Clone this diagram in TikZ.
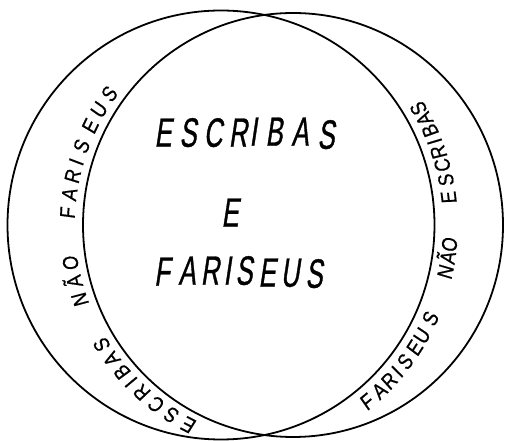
\documentclass[tikz,border=0pt]{standalone}
\usepackage{fontspec}
\newfontfamily\handside[FakeStretch=0.85,FakeSlant=0.08,FakeBold=0.6]{Liberation Sans}
\newfontfamily\handmain[FakeStretch=0.62,FakeSlant=0.15,FakeBold=0.8]{Liberation Sans}
\begin{document}
\begin{tikzpicture}[x=1pt,y=1pt,
  ring/.style={line width=1.8pt},
  sidelet/.style={font=\handside\fontsize{21.5}{22}\selectfont, inner sep=0pt, text height=15.5pt, text depth=0pt},
  mainlet/.style={font=\handmain\fontsize{41}{43}\selectfont, inner sep=0pt, text height=29.5pt, text depth=0pt}]
\useasboundingbox (0,0) rectangle (506,441);
\coordinate (lc) at (221,216);
\coordinate (rc) at (293,216);
\draw[ring] (lc) ellipse [x radius=213.5, y radius=214.5];
\draw[ring] (rc) ellipse [x radius=210, y radius=212];
% left crescent: ESCRIBAS NÃO FARISEUS
\foreach \ch/\ang [count=\i] in {E/242.5, S/237.5, C/232.8, R/228, I/224.3, B/220.8, A/216.6, S/212.2,
  N/199.4, Ã/194.6, O/189.8,
  F/177, A/172.3, R/167.6, I/163.9, S/159.7, E/154.1, U/149.4, S/144.6}
  \node[sidelet, rotate=\ang-90] (l\i) at ([shift={(\ang:226)}]rc) {\ch};
% right crescent: FARISEUS NÃO ESCRIBAS
\foreach \ch/\ang [count=\i] in {F/-50.5, A/-46.4, R/-42.9, I/-39.9, S/-36.7, E/-32.5, U/-29, S/-24.2,
  N/-11.9, Ã/-8.3, O/-5,
  E/6.8, S/11.2, C/15, R/18.4, I/21.2, B/24.2, A/27.4, S/30.4}
  \node[sidelet, rotate=\ang+90] (r\i) at ([shift={(\ang:229)}]lc) {\ch};
% centre
\foreach \ch/\x/\y [count=\i] in {E/163/309, S/188/309, C/213/309, R/238/309, I/253/310, B/274/310, A/300/310, S/326/307}
  \node[mainlet] (a\i) at (\x,\y) {\ch};
\node[mainlet] (e1) at (230,229) {E};
\foreach \ch/\x/\y [count=\i] in {F/162/170, A/187/171, R/210/171, I/227/171, S/244/171, E/267/169, U/290/169, S/314/168}
  \node[mainlet] (b\i) at (\x,\y) {\ch};
\end{tikzpicture}
\end{document}
